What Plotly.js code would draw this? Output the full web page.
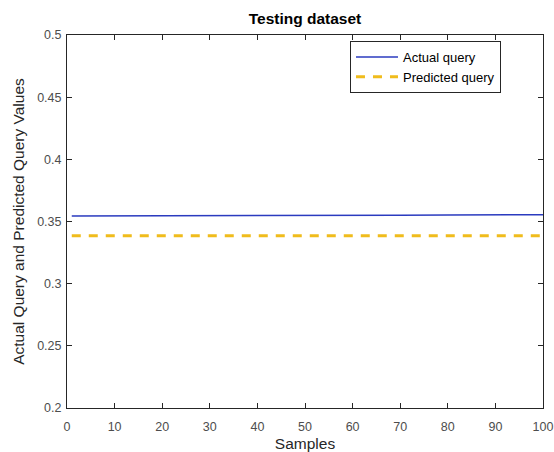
<!DOCTYPE html>
<html>
<head>
<meta charset="utf-8">
<script src="https://cdn.plot.ly/plotly-3.0.1.min.js"></script>
<style>html,body{margin:0;padding:0;background:#fff;}#chart{width:554px;height:452px;}</style>
</head>
<body>
<div id="chart"></div>
<script>
var sampleX = [1, 10, 20, 30, 40, 50, 60, 70, 80, 90, 100];
var actualQuery = [0.3545, 0.3545, 0.3546, 0.3546, 0.3548, 0.3549, 0.3550, 0.3551, 0.3552, 0.3553, 0.3555];
var predictedQuery = [0.3385, 0.3385, 0.3385, 0.3385, 0.3385, 0.3385, 0.3385, 0.3385, 0.3385, 0.3385, 0.3385];
var xTicks = [0, 10, 20, 30, 40, 50, 60, 70, 80, 90, 100];
var yTicks = [0.2, 0.25, 0.3, 0.35, 0.4, 0.45, 0.5];

var font = "Liberation Sans, Arial, sans-serif";
var traces = [
  {x: sampleX, y: actualQuery, mode: 'lines', name: 'Actual query',
   line: {color: '#2b3bbf', width: 1.5}},
  {x: sampleX, y: predictedQuery, mode: 'lines', name: 'Predicted query',
   line: {color: '#F0BC1C', width: 3, dash: '9px,8px'}}
];
var axisCommon = {
  showline: true, linecolor: '#262626', linewidth: 1, mirror: 'ticks',
  ticks: 'inside', ticklen: 5, tickcolor: '#262626', showgrid: false, zeroline: false,
  tickfont: {family: font, size: 12.5, color: '#4d4d4d'}
};
var layout = {
  width: 554, height: 452,
  margin: {l: 67, r: 11, t: 35, b: 44},
  paper_bgcolor: '#fff', plot_bgcolor: '#fff',
  font: {family: font},
  title: {text: '<b>Testing dataset</b>', font: {family: font, size: 15.5, color: '#000'},
          x: 0.5, xanchor: 'center', y: 0.96, yanchor: 'middle', xref: 'paper'},
  xaxis: Object.assign({}, axisCommon, {
    range: [0, 100], tickvals: xTicks, ticktext: xTicks.map(String),
    ticklabelstandoff: 7,
    title: {text: 'Samples', font: {family: font, size: 15.5, color: '#262626'}, standoff: 5}
  }),
  yaxis: Object.assign({}, axisCommon, {
    range: [0.2, 0.5], tickvals: yTicks, ticktext: yTicks.map(String),
    ticklabelstandoff: 2,
    title: {text: 'Actual Query and Predicted Query Values', font: {family: font, size: 15.5, color: '#262626'}, standoff: 8}
  }),
  showlegend: true,
  legend: {x: 0.5945, y: 0.984, xanchor: 'left', yanchor: 'top',
           bordercolor: '#262626', borderwidth: 1, bgcolor: '#fff',
           font: {family: font, size: 13, color: '#000'},
           tracegroupgap: 0, itemwidth: 42}
};
Plotly.newPlot('chart', traces, layout, {displayModeBar: false, staticPlot: true});
</script>
</body>
</html>
